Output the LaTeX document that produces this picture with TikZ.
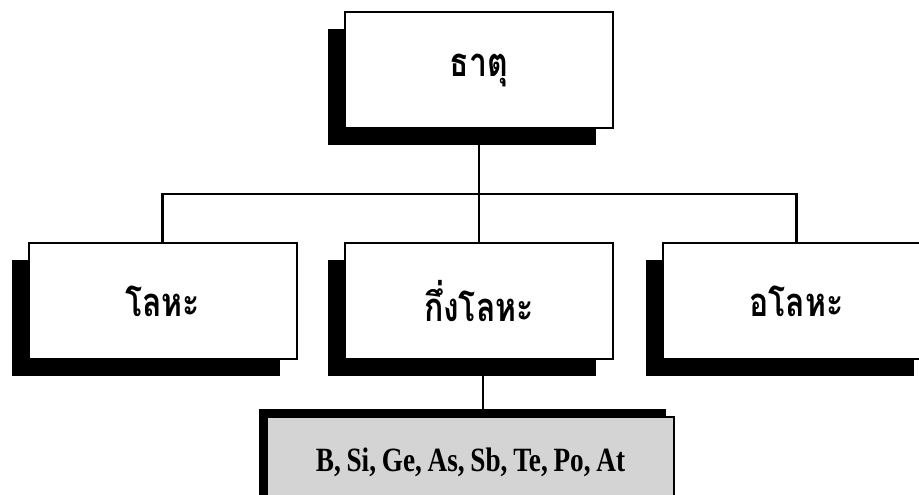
\documentclass[tikz,border=0pt]{standalone}
\usepackage{fontspec}
\setmainfont{Liberation Serif}
\newfontfamily\thaifont[Script=Thai, FakeStretch=0.8]{Loma}
\newfontfamily\symlist[FakeStretch=0.8, WordSpace=0.85]{Liberation Serif Bold}
\usetikzlibrary{shadows}
\tikzset{
  catbox/.style={draw=black, line width=2pt, fill=white,
    minimum width=268pt, minimum height=116pt, inner sep=0pt,
    font=\thaifont\bfseries\fontsize{40}{46}\selectfont,
    general shadow={fill=black, shadow xshift=-17pt, shadow yshift=-17pt}},
  listbox/.style={draw=black, line width=1.6pt, fill=black!17,
    minimum width=407pt, minimum height=90pt, inner sep=0pt,
    font=\symlist\fontsize{34}{40}\selectfont,
    general shadow={fill=black, shadow xshift=-8pt, shadow yshift=8pt}},
  link/.style={draw=black, line width=2.4pt}
}
\begin{document}
\begin{tikzpicture}[x=1pt, y=-1pt]
  \clip (0,0) rectangle (919,495);
  \fill[white] (0,0) rectangle (919,495);

  % element classification tree
  \node[catbox] (root)  at (479,70)  {ธาตุ};
  \node[catbox] (metal) at (162.5,301) {โลหะ};
  \node[catbox] (semi)  at (479,301) {กึ่งโลหะ};
  \node[catbox] (nonm)  at (796.5,301) {อโลหะ};
  \node[listbox] (list) at (470.5,462) {B, Si, Ge, As, Sb, Te, Po, At};

  % connectors
  \coordinate (bus) at (479,194);
  \draw[link] (root.south) -- (bus);
  \draw[link] (bus) -| (metal.north);
  \draw[link] (bus) -| (nonm.north);
  \draw[link] (bus) -- (semi.north);
  \draw[link] ([xshift=4pt]semi.south) -- ([xshift=4pt]semi.south |- list.north);
\end{tikzpicture}
\end{document}
